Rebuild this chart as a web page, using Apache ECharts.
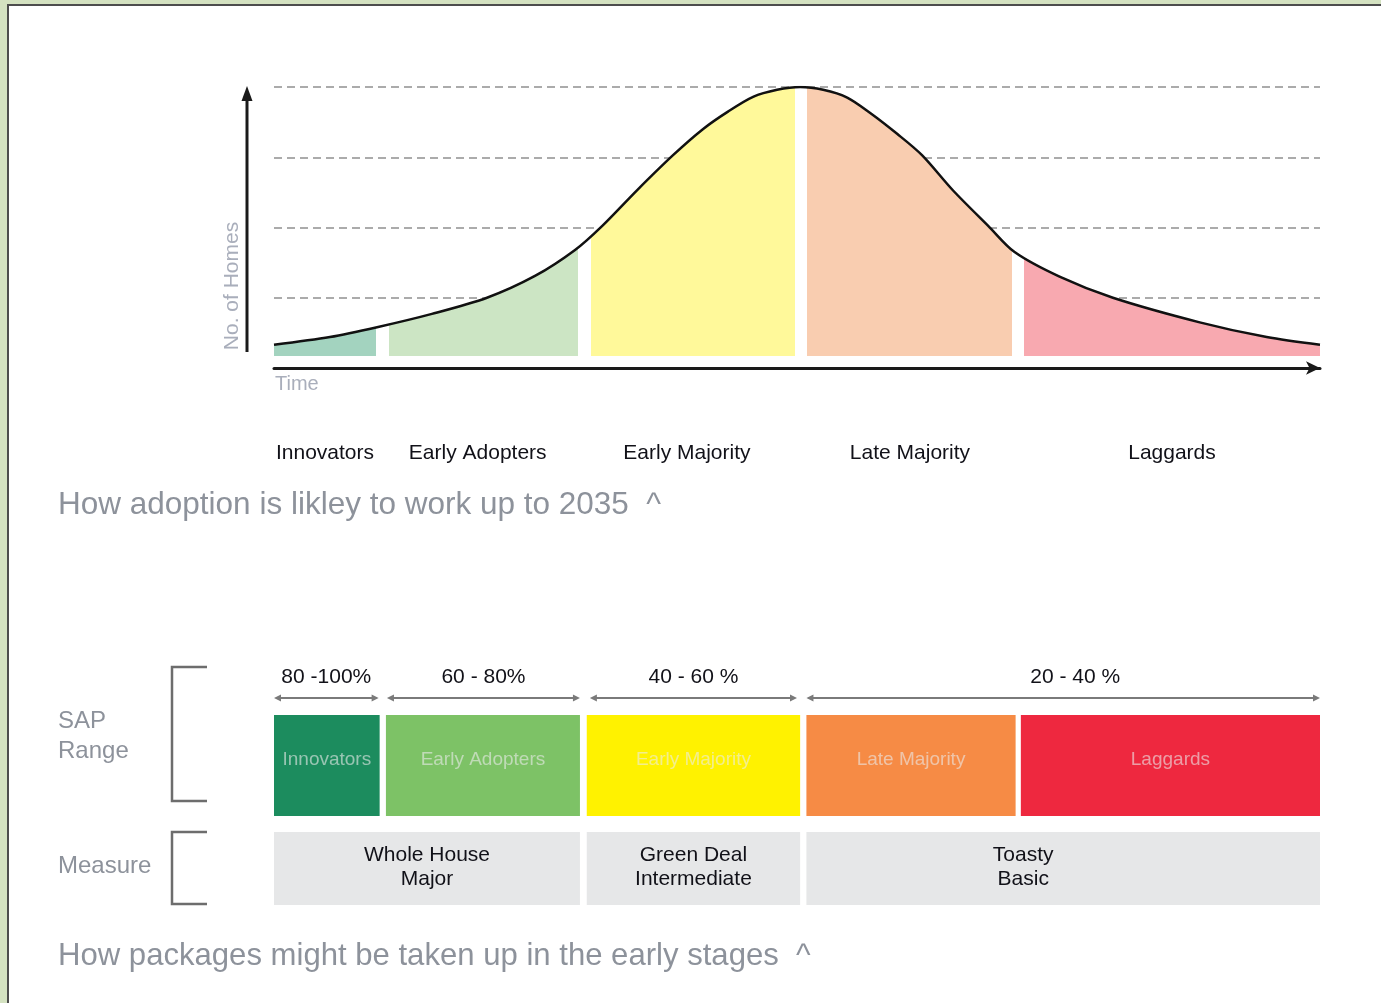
<!DOCTYPE html>
<html>
<head>
<meta charset="utf-8">
<title>Adoption curve</title>
<script src="https://cdn.jsdelivr.net/npm/echarts@6/dist/echarts.min.js"></script>
<style>
  html, body { margin: 0; padding: 0; background: #d4e2c1; overflow: hidden; }
  #panel { position: absolute; left: 7px; top: 4px; width: 1380px; height: 1005px; background: #fff;
           border-left: 2px solid #4d4d4d; border-top: 2px solid #4d4d4d; }
  #main { position: absolute; left: 0; top: 0; width: 1381px; height: 1003px; }
</style>
</head>
<body>
<div id="panel"></div>
<div id="main"></div>
<script>
// bell curve: time (0-100) against no. of homes (grid steps)
var curveTime  = [0, 5.35, 9.85, 15.1, 20.36, 24.95, 28.78, 31.36, 34.7, 38.15, 41.0, 43.4, 45.8, 48.1, 50.3,
                  52.5, 54.8, 57.0, 59.6, 61.95, 64.9, 68.3, 70.8, 75.1, 80.2, 88.5, 94.9, 100];
var curveHomes = [0.33, 0.44, 0.58, 0.77, 1.00, 1.31, 1.68, 2.02, 2.53, 3.03, 3.40, 3.65, 3.86, 3.96, 4.0,
                  3.96, 3.85, 3.63, 3.33, 3.03, 2.53, 2.02, 1.65, 1.30, 1.00, 0.65, 0.44, 0.33];
var homeTicks  = [0, 1, 2, 3, 4];

var groups     = ['Innovators', 'Early Adopters', 'Early Majority', 'Late Majority', 'Laggards'];
var groupStart = [0, 11.0, 30.3, 51.0, 71.7];
var groupEnd   = [9.75, 29.1, 49.8, 70.6, 100];

// packages diagram
var sapStart = [0, 10.7, 29.9, 50.9, 71.4];
var sapEnd   = [10.1, 29.25, 50.3, 70.9, 100];
var sapRanges  = ['80 -100%', '60 - 80%', '40 - 60 %', '20 - 40 %'];
var rangeStart = [0, 10.8, 30.2, 50.9];
var rangeEnd   = [10.0, 29.25, 50.0, 100];
var measures     = ['Whole House\nMajor', 'Green Deal\nIntermediate', 'Toasty\nBasic'];
var measureStart = [0, 29.9, 50.9];
var measureEnd   = [29.25, 50.3, 100];

var FONT = "'Liberation Sans', Arial, sans-serif";
var softColors = ['#a3d3bf', '#cce5c4', '#fff99a', '#f9cdb0', '#f8a9b0'];
var boxColors  = ['#1c8c5e', '#7dc266', '#fff200', '#f68b45', '#ee283f'];
var groupShift = [0, -6, -6, 0, 0];
var measureShift = [0, 0, -40];
var rangeShift = [0, 0, 0, 12];

var chart = echarts.init(document.getElementById('main'));

// colour bands under the curve, white gaps between
var pieces = [];
groups.forEach(function (g, i) {
    pieces.push({ gte: groupStart[i], lt: groupEnd[i], color: softColors[i] });
    if (i < groups.length - 1) {
        pieces.push({ gte: groupEnd[i], lt: groupStart[i + 1], color: '#ffffff' });
    }
});
pieces[pieces.length - 1].lte = 100;

var curve = curveTime.map(function (t, i) { return [t, curveHomes[i]]; });

var option = {
    animation: false,
    grid: [
        { left: 274, right: 61, top: 87, height: 281 },
        { left: 274, right: 61, top: 660, height: 250 }
    ],
    xAxis: [{
        type: 'value', gridIndex: 0, min: 0, max: 100,
        axisLine: { show: true, symbol: ['none', 'arrow'], symbolSize: [10, 14], lineStyle: { color: '#1a1a1a', width: 3 } },
        axisTick: { show: false }, axisLabel: { show: false }, splitLine: { show: false }
    }, {
        type: 'value', gridIndex: 1, min: 0, max: 100, show: false
    }],
    yAxis: [{
        type: 'value', gridIndex: 0, min: homeTicks[0], max: homeTicks[homeTicks.length - 1], interval: 1,
        axisLine: { show: false }, axisTick: { show: false }, axisLabel: { show: false },
        splitLine: { lineStyle: { color: '#ababab', width: 2, type: [8, 5] } }
    }, {
        type: 'value', gridIndex: 1, min: 0, max: 1, show: false
    }],
    visualMap: {
        show: false, type: 'piecewise', seriesIndex: 0, dimension: 0, pieces: pieces
    },
    series: [{
        type: 'line', data: curve, smooth: 0.3, symbol: 'none', z: 1,
        lineStyle: { width: 0, opacity: 0 },
        areaStyle: { opacity: 1, origin: 0.17 }
    }, {
        type: 'line', data: curve, smooth: 0.3, symbol: 'none', z: 3,
        lineStyle: { color: '#111', width: 2.5 }
    }, {
        // group names under the time axis
        type: 'custom', xAxisIndex: 0, yAxisIndex: 0, clip: false,
        data: groups.map(function (g, i) { return [(groupStart[i] + groupEnd[i]) / 2, i]; }),
        renderItem: function (params, api) {
            var i = api.value(1);
            var x = api.coord([api.value(0), 0])[0];
            return { type: 'text', style: { text: groups[i], x: x + groupShift[i], y: 453, align: 'center', verticalAlign: 'middle',
                font: '21px ' + FONT, fill: '#111118' } };
        }
    }, {
        // SAP range boxes
        type: 'custom', xAxisIndex: 1, yAxisIndex: 1, clip: false,
        data: sapStart.map(function (s, i) { return [s, sapEnd[i], i]; }),
        renderItem: function (params, api) {
            var x0 = api.coord([api.value(0), 0])[0];
            var x1 = api.coord([api.value(1), 0])[0];
            var i = api.value(2);
            return { type: 'group', children: [
                { type: 'rect', shape: { x: x0, y: 715, width: x1 - x0, height: 101 }, style: { fill: boxColors[i] } },
                { type: 'text', style: { text: groups[i], x: (x0 + x1) / 2, y: 760, align: 'center', verticalAlign: 'middle',
                    font: '19px ' + FONT, fill: 'rgba(235,235,235,0.6)' } }
            ] };
        }
    }, {
        // range arrows and labels
        type: 'custom', xAxisIndex: 1, yAxisIndex: 1, clip: false,
        data: rangeStart.map(function (s, i) { return [s, rangeEnd[i], i]; }),
        renderItem: function (params, api) {
            var x0 = api.coord([api.value(0), 0])[0];
            var x1 = api.coord([api.value(1), 0])[0];
            var i = api.value(2);
            var y = 698, c = '#7a7a7a';
            return { type: 'group', children: [
                { type: 'line', shape: { x1: x0 + 2, y1: y, x2: x1 - 2, y2: y }, style: { stroke: c, lineWidth: 2 } },
                { type: 'polygon', shape: { points: [[x0, y], [x0 + 7, y - 3.5], [x0 + 7, y + 3.5]] }, style: { fill: c } },
                { type: 'polygon', shape: { points: [[x1, y], [x1 - 7, y - 3.5], [x1 - 7, y + 3.5]] }, style: { fill: c } },
                { type: 'text', style: { text: sapRanges[i], x: (x0 + x1) / 2 + rangeShift[i], y: 677, align: 'center', verticalAlign: 'middle',
                    font: '21px ' + FONT, fill: '#111118' } }
            ] };
        }
    }, {
        // measure boxes
        type: 'custom', xAxisIndex: 1, yAxisIndex: 1, clip: false,
        data: measureStart.map(function (s, i) { return [s, measureEnd[i], i]; }),
        renderItem: function (params, api) {
            var x0 = api.coord([api.value(0), 0])[0];
            var x1 = api.coord([api.value(1), 0])[0];
            var i = api.value(2);
            return { type: 'group', children: [
                { type: 'rect', shape: { x: x0, y: 832, width: x1 - x0, height: 73 }, style: { fill: '#e6e7e8' } },
                { type: 'text', style: { text: measures[i], x: (x0 + x1) / 2 + measureShift[i], y: 867, align: 'center', verticalAlign: 'middle',
                    font: '21px ' + FONT, lineHeight: 24, fill: '#111118' } }
            ] };
        }
    }],
    graphic: [
        { type: 'line', shape: { x1: 247, y1: 352, x2: 247, y2: 98 }, style: { stroke: '#1a1a1a', lineWidth: 3 } },
        { type: 'polygon', shape: { points: [[247, 86], [241.5, 101], [252.5, 101]] }, style: { fill: '#1a1a1a' } },
        { type: 'text', x: 232, y: 286, rotation: Math.PI / 2,
          style: { text: 'No. of Homes', align: 'center', verticalAlign: 'middle', font: '21px ' + FONT, fill: '#a9aebb' } },
        { type: 'text', style: { text: 'Time', x: 275, y: 384, verticalAlign: 'middle', font: '20px ' + FONT, fill: '#a9aebb' } },
        { type: 'text', style: { text: 'How adoption is likley to work up to 2035  ^', x: 58, y: 505, verticalAlign: 'middle',
            font: '31.5px ' + FONT, fill: '#8d929b' } },
        { type: 'text', style: { text: 'SAP\nRange', x: 58, y: 736, verticalAlign: 'middle', font: '24px ' + FONT, lineHeight: 30, fill: '#8d929b' } },
        { type: 'text', style: { text: 'Measure', x: 58, y: 866, verticalAlign: 'middle', font: '24px ' + FONT, fill: '#8d929b' } },
        { type: 'polyline', shape: { points: [[207, 667], [172, 667], [172, 801], [207, 801]] }, style: { stroke: '#6d6d6d', lineWidth: 2.5, fill: null } },
        { type: 'polyline', shape: { points: [[207, 832], [172, 832], [172, 904], [207, 904]] }, style: { stroke: '#6d6d6d', lineWidth: 2.5, fill: null } },
        { type: 'text', style: { text: 'How packages might be taken up in the early stages  ^', x: 58, y: 956, verticalAlign: 'middle',
            font: '31.1px ' + FONT, fill: '#8d929b' } }
    ]
};

chart.setOption(option);
</script>
</body>
</html>
